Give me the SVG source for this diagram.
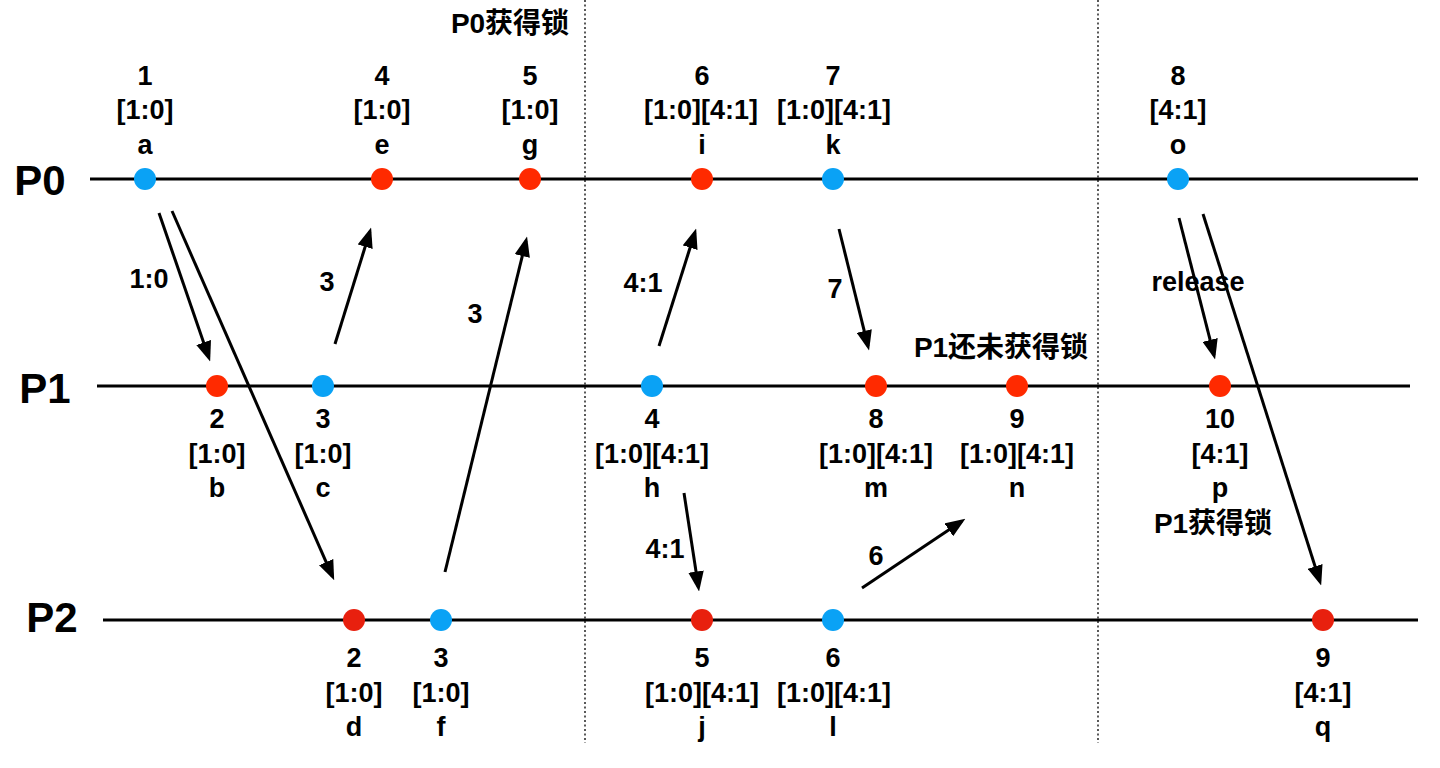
<svg xmlns="http://www.w3.org/2000/svg" width="1440" height="768" viewBox="0 0 1440 768">
<style>
text{font-family:"Liberation Sans","Noto Sans CJK SC",sans-serif;font-weight:bold;font-size:27px;fill:#000;text-anchor:middle}
.pl{font-size:42px}
.cn{font-size:28px}
.tl{stroke:#000;stroke-width:3.2;fill:none}
.dash{stroke:#000;stroke-width:1.3;stroke-dasharray:2 2.5;fill:none}
.ar{stroke:#000;stroke-width:3;fill:none;marker-end:url(#ah)}
.blue{fill:#0AA2F5}
.red{fill:#FF2A00}
.red2{fill:#E8200E}
</style>
<defs>
<marker id="ah" markerUnits="userSpaceOnUse" markerWidth="20" markerHeight="16" viewBox="0 0 18 14" refX="14" refY="7" orient="auto">
<path d="M0,0 L18,7 L0,14 Z" fill="#000"/>
</marker>
</defs>
<rect width="1440" height="768" fill="#fff"/>
<g id="dividers">
<line class="dash" x1="585" y1="0" x2="585" y2="743"/>
<line class="dash" x1="1098" y1="0" x2="1098" y2="743"/>
</g>
<g id="timelines">
<line class="tl" x1="90" y1="179" x2="1418" y2="179"/>
<line class="tl" x1="97" y1="386" x2="1410" y2="386"/>
<line class="tl" x1="103" y1="620" x2="1418" y2="620"/>
<text class="pl" x="40" y="195">P0</text>
<text class="pl" x="45" y="403">P1</text>
<text class="pl" x="52" y="632">P2</text>
</g>
<g id="annotations">
<text class="cn" x="510" y="33">P0获得锁</text>
<text class="cn" x="1001" y="357">P1还未获得锁</text>
</g>
<g id="connectors">
<line class="ar" x1="159" y1="213" x2="208.7" y2="357.2"/>
<line class="ar" x1="172" y1="211" x2="332.4" y2="576.3"/>
<line class="ar" x1="335" y1="344" x2="369.8" y2="231.8"/>
<line class="ar" x1="445" y1="572" x2="526" y2="240.9"/>
<line class="ar" x1="659" y1="346" x2="694.8" y2="232.8"/>
<line class="ar" x1="839" y1="229" x2="868" y2="346.1"/>
<line class="ar" x1="684" y1="493" x2="698.4" y2="587"/>
<line class="ar" x1="862" y1="588" x2="961.7" y2="521.2"/>
<line class="ar" x1="1179" y1="218" x2="1214" y2="355.1"/>
<line class="ar" x1="1203" y1="214" x2="1319.8" y2="581.2"/>
<text x="149" y="288">1:0</text>
<text x="327" y="291">3</text>
<text x="475" y="323">3</text>
<text x="643" y="292">4:1</text>
<text x="835" y="298">7</text>
<text x="665" y="558">4:1</text>
<text x="876" y="565">6</text>
<text x="1198" y="291">release</text>
</g>
<g id="node-a"><circle class="blue" cx="145" cy="179" r="11"/><text x="145" y="85">1</text><text x="145" y="119">[1:0]</text><text x="145" y="154">a</text></g>
<g id="node-e"><circle class="red" cx="382" cy="179" r="11"/><text x="382" y="85">4</text><text x="382" y="119">[1:0]</text><text x="382" y="154">e</text></g>
<g id="node-g"><circle class="red" cx="530" cy="179" r="11"/><text x="530" y="85">5</text><text x="530" y="119">[1:0]</text><text x="530" y="154">g</text></g>
<g id="node-i"><circle class="red" cx="702" cy="179" r="11"/><text x="702" y="85">6</text><text x="701" y="119">[1:0][4:1]</text><text x="702" y="154">i</text></g>
<g id="node-k"><circle class="blue" cx="833" cy="179" r="11"/><text x="833" y="85">7</text><text x="834" y="119">[1:0][4:1]</text><text x="833" y="154">k</text></g>
<g id="node-o"><circle class="blue" cx="1178" cy="179" r="11"/><text x="1178" y="85">8</text><text x="1178" y="119">[4:1]</text><text x="1178" y="154">o</text></g>
<g id="node-b"><circle class="red" cx="217" cy="386" r="11"/><text x="217" y="428">2</text><text x="217" y="463">[1:0]</text><text x="217" y="497">b</text></g>
<g id="node-c"><circle class="blue" cx="323" cy="386" r="11"/><text x="323" y="428">3</text><text x="323" y="463">[1:0]</text><text x="323" y="497">c</text></g>
<g id="node-h"><circle class="blue" cx="652" cy="386" r="11"/><text x="652" y="428">4</text><text x="652" y="463">[1:0][4:1]</text><text x="652" y="497">h</text></g>
<g id="node-m"><circle class="red" cx="876" cy="386" r="11"/><text x="876" y="428">8</text><text x="876" y="463">[1:0][4:1]</text><text x="876" y="497">m</text></g>
<g id="node-n"><circle class="red" cx="1017" cy="386" r="11"/><text x="1017" y="428">9</text><text x="1017" y="463">[1:0][4:1]</text><text x="1017" y="497">n</text></g>
<g id="node-p"><circle class="red" cx="1220" cy="386" r="11"/><text x="1220" y="428">10</text><text x="1220" y="463">[4:1]</text><text x="1220" y="497">p</text><text class="cn" x="1213" y="533">P1获得锁</text></g>
<g id="node-d"><circle class="red2" cx="354" cy="620" r="11"/><text x="354" y="667">2</text><text x="354" y="702">[1:0]</text><text x="354" y="736">d</text></g>
<g id="node-f"><circle class="blue" cx="441" cy="620" r="11"/><text x="441" y="667">3</text><text x="441" y="702">[1:0]</text><text x="441" y="736">f</text></g>
<g id="node-j"><circle class="red2" cx="702" cy="620" r="11"/><text x="702" y="667">5</text><text x="702" y="702">[1:0][4:1]</text><text x="702" y="736">j</text></g>
<g id="node-l"><circle class="blue" cx="833" cy="620" r="11"/><text x="833" y="667">6</text><text x="834" y="702">[1:0][4:1]</text><text x="833" y="736">l</text></g>
<g id="node-q"><circle class="red2" cx="1323" cy="620" r="11"/><text x="1323" y="667">9</text><text x="1323" y="702">[4:1]</text><text x="1323" y="736">q</text></g>
</svg>
